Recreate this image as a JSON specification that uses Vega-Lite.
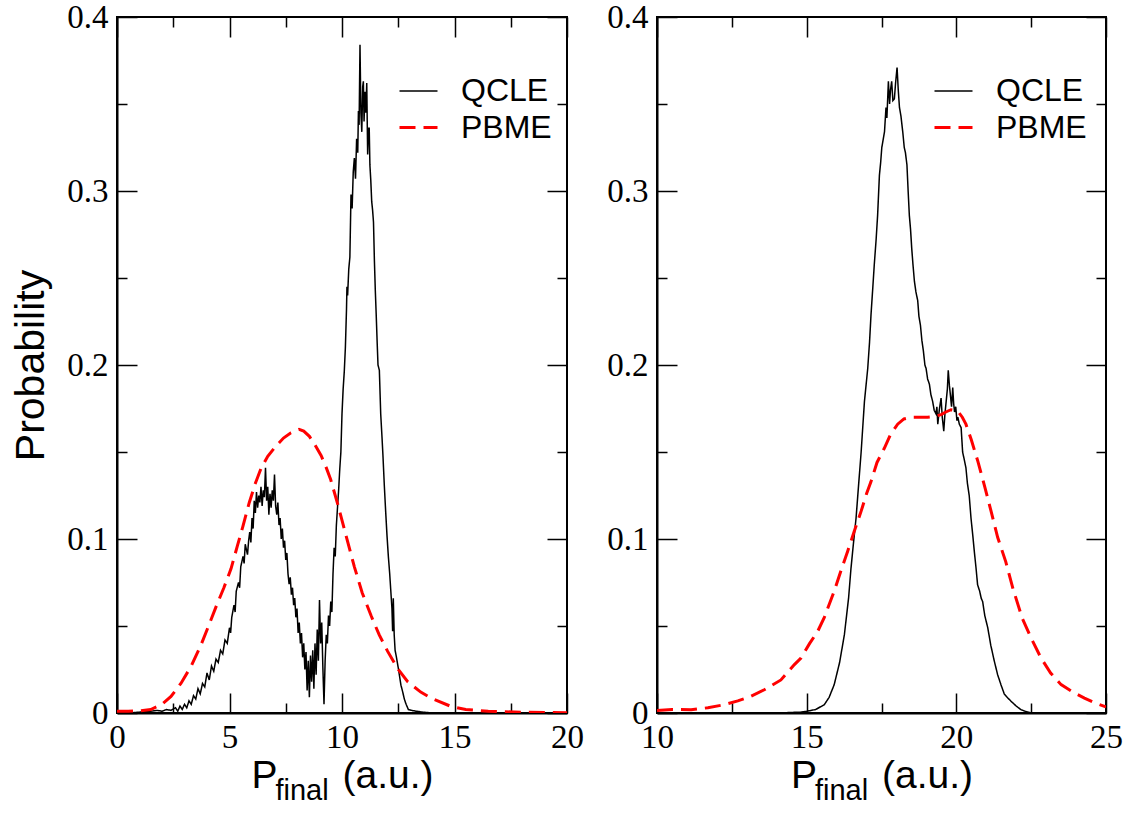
{
  "$schema": "https://vega.github.io/schema/vega-lite/v6.json",
  "padding": {"left": 9, "top": 0, "right": 0, "bottom": 0},
  "background": "white",
  "spacing": 90,
  "bounds": "flush",
  "datasets": {
    "left": [
      {"x":0,"y":0,"s":"QCLE"},{"x":0.5,"y":0,"s":"QCLE"},{"x":1.0,"y":0.0005,"s":"QCLE"},{"x":1.5,"y":0.001,"s":"QCLE"},{"x":1.8,"y":0.0015,"s":"QCLE"},{"x":2.0,"y":0.001,"s":"QCLE"},{"x":2.2,"y":0.002,"s":"QCLE"},{"x":2.4,"y":0.0015,"s":"QCLE"},{"x":2.6,"y":0.003,"s":"QCLE"},{"x":2.7,"y":0.001,"s":"QCLE"},{"x":2.8,"y":0.004,"s":"QCLE"},{"x":2.9,"y":0.002,"s":"QCLE"},{"x":3.0,"y":0.005,"s":"QCLE"},{"x":3.1,"y":0.003,"s":"QCLE"},{"x":3.2,"y":0.007,"s":"QCLE"},{"x":3.3,"y":0.005,"s":"QCLE"},{"x":3.4,"y":0.010,"s":"QCLE"},{"x":3.5,"y":0.008,"s":"QCLE"},{"x":3.6,"y":0.014,"s":"QCLE"},{"x":3.7,"y":0.011,"s":"QCLE"},{"x":3.8,"y":0.017,"s":"QCLE"},{"x":3.9,"y":0.015,"s":"QCLE"},{"x":4.0,"y":0.023,"s":"QCLE"},{"x":4.1,"y":0.019,"s":"QCLE"},{"x":4.2,"y":0.027,"s":"QCLE"},{"x":4.3,"y":0.024,"s":"QCLE"},{"x":4.4,"y":0.031,"s":"QCLE"},{"x":4.5,"y":0.029,"s":"QCLE"},{"x":4.6,"y":0.036,"s":"QCLE"},{"x":4.7,"y":0.034,"s":"QCLE"},{"x":4.8,"y":0.042,"s":"QCLE"},{"x":4.9,"y":0.040,"s":"QCLE"},{"x":5.0,"y":0.049,"s":"QCLE"},{"x":5.05,"y":0.046,"s":"QCLE"},{"x":5.1,"y":0.055,"s":"QCLE"},{"x":5.2,"y":0.062,"s":"QCLE"},{"x":5.25,"y":0.058,"s":"QCLE"},{"x":5.3,"y":0.070,"s":"QCLE"},{"x":5.4,"y":0.075,"s":"QCLE"},{"x":5.45,"y":0.072,"s":"QCLE"},{"x":5.5,"y":0.084,"s":"QCLE"},{"x":5.6,"y":0.090,"s":"QCLE"},{"x":5.65,"y":0.086,"s":"QCLE"},{"x":5.7,"y":0.097,"s":"QCLE"},{"x":5.8,"y":0.091,"s":"QCLE"},{"x":5.85,"y":0.099,"s":"QCLE"},{"x":5.9,"y":0.104,"s":"QCLE"},{"x":5.95,"y":0.098,"s":"QCLE"},{"x":6.0,"y":0.112,"s":"QCLE"},{"x":6.05,"y":0.106,"s":"QCLE"},{"x":6.1,"y":0.122,"s":"QCLE"},{"x":6.15,"y":0.115,"s":"QCLE"},{"x":6.2,"y":0.127,"s":"QCLE"},{"x":6.25,"y":0.118,"s":"QCLE"},{"x":6.3,"y":0.125,"s":"QCLE"},{"x":6.35,"y":0.121,"s":"QCLE"},{"x":6.4,"y":0.130,"s":"QCLE"},{"x":6.45,"y":0.119,"s":"QCLE"},{"x":6.5,"y":0.128,"s":"QCLE"},{"x":6.55,"y":0.124,"s":"QCLE"},{"x":6.6,"y":0.141,"s":"QCLE"},{"x":6.65,"y":0.122,"s":"QCLE"},{"x":6.7,"y":0.130,"s":"QCLE"},{"x":6.75,"y":0.114,"s":"QCLE"},{"x":6.8,"y":0.126,"s":"QCLE"},{"x":6.85,"y":0.118,"s":"QCLE"},{"x":6.9,"y":0.128,"s":"QCLE"},{"x":6.95,"y":0.122,"s":"QCLE"},{"x":7.0,"y":0.137,"s":"QCLE"},{"x":7.05,"y":0.119,"s":"QCLE"},{"x":7.1,"y":0.114,"s":"QCLE"},{"x":7.15,"y":0.121,"s":"QCLE"},{"x":7.2,"y":0.108,"s":"QCLE"},{"x":7.25,"y":0.112,"s":"QCLE"},{"x":7.3,"y":0.100,"s":"QCLE"},{"x":7.35,"y":0.106,"s":"QCLE"},{"x":7.4,"y":0.095,"s":"QCLE"},{"x":7.45,"y":0.099,"s":"QCLE"},{"x":7.5,"y":0.088,"s":"QCLE"},{"x":7.55,"y":0.092,"s":"QCLE"},{"x":7.6,"y":0.080,"s":"QCLE"},{"x":7.65,"y":0.074,"s":"QCLE"},{"x":7.7,"y":0.078,"s":"QCLE"},{"x":7.75,"y":0.068,"s":"QCLE"},{"x":7.8,"y":0.072,"s":"QCLE"},{"x":7.85,"y":0.062,"s":"QCLE"},{"x":7.9,"y":0.066,"s":"QCLE"},{"x":7.95,"y":0.055,"s":"QCLE"},{"x":8.0,"y":0.060,"s":"QCLE"},{"x":8.05,"y":0.046,"s":"QCLE"},{"x":8.1,"y":0.052,"s":"QCLE"},{"x":8.15,"y":0.040,"s":"QCLE"},{"x":8.2,"y":0.046,"s":"QCLE"},{"x":8.25,"y":0.032,"s":"QCLE"},{"x":8.3,"y":0.040,"s":"QCLE"},{"x":8.35,"y":0.025,"s":"QCLE"},{"x":8.4,"y":0.035,"s":"QCLE"},{"x":8.45,"y":0.013,"s":"QCLE"},{"x":8.5,"y":0.030,"s":"QCLE"},{"x":8.55,"y":0.009,"s":"QCLE"},{"x":8.6,"y":0.033,"s":"QCLE"},{"x":8.65,"y":0.018,"s":"QCLE"},{"x":8.7,"y":0.036,"s":"QCLE"},{"x":8.75,"y":0.014,"s":"QCLE"},{"x":8.8,"y":0.040,"s":"QCLE"},{"x":8.85,"y":0.022,"s":"QCLE"},{"x":8.9,"y":0.048,"s":"QCLE"},{"x":8.95,"y":0.030,"s":"QCLE"},{"x":9.0,"y":0.065,"s":"QCLE"},{"x":9.05,"y":0.040,"s":"QCLE"},{"x":9.1,"y":0.052,"s":"QCLE"},{"x":9.15,"y":0.026,"s":"QCLE"},{"x":9.2,"y":0.005,"s":"QCLE"},{"x":9.25,"y":0.030,"s":"QCLE"},{"x":9.3,"y":0.045,"s":"QCLE"},{"x":9.35,"y":0.040,"s":"QCLE"},{"x":9.4,"y":0.056,"s":"QCLE"},{"x":9.45,"y":0.050,"s":"QCLE"},{"x":9.5,"y":0.064,"s":"QCLE"},{"x":9.55,"y":0.058,"s":"QCLE"},{"x":9.6,"y":0.080,"s":"QCLE"},{"x":9.65,"y":0.095,"s":"QCLE"},{"x":9.7,"y":0.090,"s":"QCLE"},{"x":9.75,"y":0.108,"s":"QCLE"},{"x":9.8,"y":0.118,"s":"QCLE"},{"x":9.85,"y":0.128,"s":"QCLE"},{"x":9.9,"y":0.140,"s":"QCLE"},{"x":9.95,"y":0.150,"s":"QCLE"},{"x":10.0,"y":0.172,"s":"QCLE"},{"x":10.05,"y":0.186,"s":"QCLE"},{"x":10.1,"y":0.196,"s":"QCLE"},{"x":10.15,"y":0.210,"s":"QCLE"},{"x":10.2,"y":0.232,"s":"QCLE"},{"x":10.22,"y":0.245,"s":"QCLE"},{"x":10.25,"y":0.240,"s":"QCLE"},{"x":10.3,"y":0.255,"s":"QCLE"},{"x":10.35,"y":0.262,"s":"QCLE"},{"x":10.4,"y":0.298,"s":"QCLE"},{"x":10.45,"y":0.290,"s":"QCLE"},{"x":10.5,"y":0.311,"s":"QCLE"},{"x":10.55,"y":0.319,"s":"QCLE"},{"x":10.6,"y":0.307,"s":"QCLE"},{"x":10.65,"y":0.330,"s":"QCLE"},{"x":10.7,"y":0.322,"s":"QCLE"},{"x":10.73,"y":0.346,"s":"QCLE"},{"x":10.76,"y":0.338,"s":"QCLE"},{"x":10.8,"y":0.384,"s":"QCLE"},{"x":10.84,"y":0.345,"s":"QCLE"},{"x":10.88,"y":0.334,"s":"QCLE"},{"x":10.92,"y":0.360,"s":"QCLE"},{"x":10.95,"y":0.363,"s":"QCLE"},{"x":10.98,"y":0.340,"s":"QCLE"},{"x":11.02,"y":0.357,"s":"QCLE"},{"x":11.06,"y":0.345,"s":"QCLE"},{"x":11.1,"y":0.362,"s":"QCLE"},{"x":11.14,"y":0.321,"s":"QCLE"},{"x":11.18,"y":0.336,"s":"QCLE"},{"x":11.21,"y":0.336,"s":"QCLE"},{"x":11.24,"y":0.315,"s":"QCLE"},{"x":11.28,"y":0.306,"s":"QCLE"},{"x":11.32,"y":0.294,"s":"QCLE"},{"x":11.36,"y":0.289,"s":"QCLE"},{"x":11.4,"y":0.282,"s":"QCLE"},{"x":11.44,"y":0.260,"s":"QCLE"},{"x":11.48,"y":0.243,"s":"QCLE"},{"x":11.52,"y":0.229,"s":"QCLE"},{"x":11.56,"y":0.214,"s":"QCLE"},{"x":11.6,"y":0.200,"s":"QCLE"},{"x":11.66,"y":0.197,"s":"QCLE"},{"x":11.72,"y":0.172,"s":"QCLE"},{"x":11.78,"y":0.158,"s":"QCLE"},{"x":11.82,"y":0.148,"s":"QCLE"},{"x":11.88,"y":0.131,"s":"QCLE"},{"x":11.94,"y":0.116,"s":"QCLE"},{"x":12.0,"y":0.102,"s":"QCLE"},{"x":12.06,"y":0.090,"s":"QCLE"},{"x":12.12,"y":0.080,"s":"QCLE"},{"x":12.18,"y":0.068,"s":"QCLE"},{"x":12.22,"y":0.060,"s":"QCLE"},{"x":12.25,"y":0.047,"s":"QCLE"},{"x":12.28,"y":0.066,"s":"QCLE"},{"x":12.32,"y":0.045,"s":"QCLE"},{"x":12.36,"y":0.036,"s":"QCLE"},{"x":12.42,"y":0.032,"s":"QCLE"},{"x":12.5,"y":0.026,"s":"QCLE"},{"x":12.56,"y":0.021,"s":"QCLE"},{"x":12.62,"y":0.016,"s":"QCLE"},{"x":12.7,"y":0.012,"s":"QCLE"},{"x":12.77,"y":0.008,"s":"QCLE"},{"x":12.85,"y":0.005,"s":"QCLE"},{"x":12.95,"y":0.002,"s":"QCLE"},{"x":13.1,"y":0.0015,"s":"QCLE"},{"x":13.3,"y":0.001,"s":"QCLE"},{"x":13.6,"y":0.0005,"s":"QCLE"},{"x":14,"y":0,"s":"QCLE"},{"x":20,"y":0,"s":"QCLE"},
      {"x":0,"y":0.001,"s":"PBME"},{"x":0.5,"y":0.001,"s":"PBME"},{"x":1.0,"y":0.0012,"s":"PBME"},{"x":1.5,"y":0.002,"s":"PBME"},{"x":2.0,"y":0.005,"s":"PBME"},{"x":2.4,"y":0.0095,"s":"PBME"},{"x":2.84,"y":0.017,"s":"PBME"},{"x":3.3,"y":0.027,"s":"PBME"},{"x":3.73,"y":0.039,"s":"PBME"},{"x":4.1,"y":0.051,"s":"PBME"},{"x":4.4,"y":0.061,"s":"PBME"},{"x":4.75,"y":0.072,"s":"PBME"},{"x":5.07,"y":0.083,"s":"PBME"},{"x":5.35,"y":0.096,"s":"PBME"},{"x":5.59,"y":0.107,"s":"PBME"},{"x":5.88,"y":0.121,"s":"PBME"},{"x":6.15,"y":0.132,"s":"PBME"},{"x":6.4,"y":0.1405,"s":"PBME"},{"x":6.7,"y":0.1475,"s":"PBME"},{"x":7.07,"y":0.1535,"s":"PBME"},{"x":7.4,"y":0.158,"s":"PBME"},{"x":7.73,"y":0.161,"s":"PBME"},{"x":8.09,"y":0.163,"s":"PBME"},{"x":8.3,"y":0.162,"s":"PBME"},{"x":8.55,"y":0.159,"s":"PBME"},{"x":8.8,"y":0.154,"s":"PBME"},{"x":9.07,"y":0.148,"s":"PBME"},{"x":9.3,"y":0.141,"s":"PBME"},{"x":9.5,"y":0.134,"s":"PBME"},{"x":9.81,"y":0.120,"s":"PBME"},{"x":10.2,"y":0.101,"s":"PBME"},{"x":10.55,"y":0.084,"s":"PBME"},{"x":10.9,"y":0.069,"s":"PBME"},{"x":11.29,"y":0.056,"s":"PBME"},{"x":11.65,"y":0.045,"s":"PBME"},{"x":12.03,"y":0.0354,"s":"PBME"},{"x":12.5,"y":0.025,"s":"PBME"},{"x":12.92,"y":0.018,"s":"PBME"},{"x":13.5,"y":0.012,"s":"PBME"},{"x":13.96,"y":0.0086,"s":"PBME"},{"x":14.84,"y":0.0038,"s":"PBME"},{"x":15.5,"y":0.002,"s":"PBME"},{"x":16.5,"y":0.001,"s":"PBME"},{"x":18,"y":0.0004,"s":"PBME"},{"x":20,"y":0.0002,"s":"PBME"}
    ],
    "right": [
      {"x":10,"y":0,"s":"QCLE"},{"x":14,"y":0,"s":"QCLE"},{"x":14.8,"y":0.0005,"s":"QCLE"},{"x":15.0,"y":0.001,"s":"QCLE"},{"x":15.3,"y":0.002,"s":"QCLE"},{"x":15.59,"y":0.0048,"s":"QCLE"},{"x":15.75,"y":0.009,"s":"QCLE"},{"x":15.92,"y":0.0163,"s":"QCLE"},{"x":16.1,"y":0.029,"s":"QCLE"},{"x":16.26,"y":0.045,"s":"QCLE"},{"x":16.4,"y":0.066,"s":"QCLE"},{"x":16.48,"y":0.083,"s":"QCLE"},{"x":16.56,"y":0.097,"s":"QCLE"},{"x":16.65,"y":0.112,"s":"QCLE"},{"x":16.73,"y":0.13,"s":"QCLE"},{"x":16.82,"y":0.15,"s":"QCLE"},{"x":16.93,"y":0.179,"s":"QCLE"},{"x":17.04,"y":0.198,"s":"QCLE"},{"x":17.1,"y":0.213,"s":"QCLE"},{"x":17.15,"y":0.229,"s":"QCLE"},{"x":17.2,"y":0.242,"s":"QCLE"},{"x":17.26,"y":0.258,"s":"QCLE"},{"x":17.32,"y":0.272,"s":"QCLE"},{"x":17.37,"y":0.286,"s":"QCLE"},{"x":17.43,"y":0.309,"s":"QCLE"},{"x":17.47,"y":0.316,"s":"QCLE"},{"x":17.51,"y":0.325,"s":"QCLE"},{"x":17.56,"y":0.330,"s":"QCLE"},{"x":17.6,"y":0.334,"s":"QCLE"},{"x":17.65,"y":0.348,"s":"QCLE"},{"x":17.68,"y":0.342,"s":"QCLE"},{"x":17.73,"y":0.363,"s":"QCLE"},{"x":17.77,"y":0.350,"s":"QCLE"},{"x":17.8,"y":0.358,"s":"QCLE"},{"x":17.84,"y":0.363,"s":"QCLE"},{"x":17.88,"y":0.352,"s":"QCLE"},{"x":17.93,"y":0.353,"s":"QCLE"},{"x":17.97,"y":0.362,"s":"QCLE"},{"x":18.02,"y":0.371,"s":"QCLE"},{"x":18.06,"y":0.358,"s":"QCLE"},{"x":18.1,"y":0.348,"s":"QCLE"},{"x":18.15,"y":0.343,"s":"QCLE"},{"x":18.21,"y":0.334,"s":"QCLE"},{"x":18.26,"y":0.325,"s":"QCLE"},{"x":18.3,"y":0.322,"s":"QCLE"},{"x":18.35,"y":0.315,"s":"QCLE"},{"x":18.39,"y":0.300,"s":"QCLE"},{"x":18.43,"y":0.286,"s":"QCLE"},{"x":18.47,"y":0.278,"s":"QCLE"},{"x":18.51,"y":0.267,"s":"QCLE"},{"x":18.55,"y":0.258,"s":"QCLE"},{"x":18.6,"y":0.248,"s":"QCLE"},{"x":18.65,"y":0.242,"s":"QCLE"},{"x":18.71,"y":0.237,"s":"QCLE"},{"x":18.75,"y":0.228,"s":"QCLE"},{"x":18.8,"y":0.223,"s":"QCLE"},{"x":18.85,"y":0.214,"s":"QCLE"},{"x":18.9,"y":0.208,"s":"QCLE"},{"x":18.95,"y":0.200,"s":"QCLE"},{"x":18.99,"y":0.198,"s":"QCLE"},{"x":19.04,"y":0.192,"s":"QCLE"},{"x":19.1,"y":0.189,"s":"QCLE"},{"x":19.15,"y":0.183,"s":"QCLE"},{"x":19.21,"y":0.179,"s":"QCLE"},{"x":19.26,"y":0.174,"s":"QCLE"},{"x":19.32,"y":0.172,"s":"QCLE"},{"x":19.35,"y":0.176,"s":"QCLE"},{"x":19.38,"y":0.166,"s":"QCLE"},{"x":19.43,"y":0.174,"s":"QCLE"},{"x":19.49,"y":0.181,"s":"QCLE"},{"x":19.53,"y":0.170,"s":"QCLE"},{"x":19.58,"y":0.162,"s":"QCLE"},{"x":19.62,"y":0.172,"s":"QCLE"},{"x":19.66,"y":0.179,"s":"QCLE"},{"x":19.7,"y":0.186,"s":"QCLE"},{"x":19.73,"y":0.197,"s":"QCLE"},{"x":19.77,"y":0.188,"s":"QCLE"},{"x":19.8,"y":0.183,"s":"QCLE"},{"x":19.84,"y":0.176,"s":"QCLE"},{"x":19.88,"y":0.187,"s":"QCLE"},{"x":19.91,"y":0.178,"s":"QCLE"},{"x":19.94,"y":0.173,"s":"QCLE"},{"x":19.98,"y":0.176,"s":"QCLE"},{"x":20.02,"y":0.168,"s":"QCLE"},{"x":20.05,"y":0.170,"s":"QCLE"},{"x":20.1,"y":0.166,"s":"QCLE"},{"x":20.16,"y":0.164,"s":"QCLE"},{"x":20.21,"y":0.150,"s":"QCLE"},{"x":20.26,"y":0.146,"s":"QCLE"},{"x":20.32,"y":0.141,"s":"QCLE"},{"x":20.37,"y":0.132,"s":"QCLE"},{"x":20.43,"y":0.125,"s":"QCLE"},{"x":20.49,"y":0.112,"s":"QCLE"},{"x":20.55,"y":0.102,"s":"QCLE"},{"x":20.6,"y":0.093,"s":"QCLE"},{"x":20.66,"y":0.083,"s":"QCLE"},{"x":20.71,"y":0.0737,"s":"QCLE"},{"x":20.78,"y":0.070,"s":"QCLE"},{"x":20.83,"y":0.066,"s":"QCLE"},{"x":20.88,"y":0.064,"s":"QCLE"},{"x":20.95,"y":0.056,"s":"QCLE"},{"x":21.05,"y":0.049,"s":"QCLE"},{"x":21.15,"y":0.039,"s":"QCLE"},{"x":21.27,"y":0.0297,"s":"QCLE"},{"x":21.38,"y":0.022,"s":"QCLE"},{"x":21.49,"y":0.0163,"s":"QCLE"},{"x":21.6,"y":0.011,"s":"QCLE"},{"x":21.7,"y":0.009,"s":"QCLE"},{"x":21.83,"y":0.0067,"s":"QCLE"},{"x":22.0,"y":0.004,"s":"QCLE"},{"x":22.16,"y":0.0019,"s":"QCLE"},{"x":22.3,"y":0.001,"s":"QCLE"},{"x":22.5,"y":0,"s":"QCLE"},{"x":25,"y":0,"s":"QCLE"},
      {"x":10,"y":0.0015,"s":"PBME"},{"x":10.5,"y":0.002,"s":"PBME"},{"x":11.14,"y":0.0019,"s":"PBME"},{"x":11.7,"y":0.003,"s":"PBME"},{"x":12.25,"y":0.0048,"s":"PBME"},{"x":12.7,"y":0.007,"s":"PBME"},{"x":13.14,"y":0.0096,"s":"PBME"},{"x":13.6,"y":0.0135,"s":"PBME"},{"x":14.14,"y":0.019,"s":"PBME"},{"x":14.59,"y":0.0278,"s":"PBME"},{"x":14.81,"y":0.0316,"s":"PBME"},{"x":15.1,"y":0.040,"s":"PBME"},{"x":15.37,"y":0.047,"s":"PBME"},{"x":15.59,"y":0.055,"s":"PBME"},{"x":15.92,"y":0.070,"s":"PBME"},{"x":16.15,"y":0.082,"s":"PBME"},{"x":16.37,"y":0.093,"s":"PBME"},{"x":16.59,"y":0.1044,"s":"PBME"},{"x":16.82,"y":0.116,"s":"PBME"},{"x":17.0,"y":0.126,"s":"PBME"},{"x":17.15,"y":0.133,"s":"PBME"},{"x":17.35,"y":0.144,"s":"PBME"},{"x":17.59,"y":0.152,"s":"PBME"},{"x":17.8,"y":0.160,"s":"PBME"},{"x":18.04,"y":0.166,"s":"PBME"},{"x":18.25,"y":0.169,"s":"PBME"},{"x":18.49,"y":0.170,"s":"PBME"},{"x":18.75,"y":0.170,"s":"PBME"},{"x":19.04,"y":0.170,"s":"PBME"},{"x":19.3,"y":0.1705,"s":"PBME"},{"x":19.49,"y":0.1715,"s":"PBME"},{"x":19.65,"y":0.173,"s":"PBME"},{"x":19.82,"y":0.1743,"s":"PBME"},{"x":20.05,"y":0.1734,"s":"PBME"},{"x":20.2,"y":0.170,"s":"PBME"},{"x":20.32,"y":0.166,"s":"PBME"},{"x":20.5,"y":0.157,"s":"PBME"},{"x":20.72,"y":0.1446,"s":"PBME"},{"x":20.95,"y":0.130,"s":"PBME"},{"x":21.16,"y":0.116,"s":"PBME"},{"x":21.38,"y":0.101,"s":"PBME"},{"x":21.65,"y":0.087,"s":"PBME"},{"x":21.9,"y":0.071,"s":"PBME"},{"x":22.2,"y":0.0546,"s":"PBME"},{"x":22.5,"y":0.043,"s":"PBME"},{"x":22.83,"y":0.0316,"s":"PBME"},{"x":23.15,"y":0.023,"s":"PBME"},{"x":23.5,"y":0.0163,"s":"PBME"},{"x":23.9,"y":0.012,"s":"PBME"},{"x":24.28,"y":0.0086,"s":"PBME"},{"x":24.6,"y":0.006,"s":"PBME"},{"x":24.95,"y":0.0038,"s":"PBME"},{"x":25,"y":0.0035,"s":"PBME"}
    ]
  },
  "config": {
    "view": {"stroke": "black", "strokeWidth": 2},
    "axis": {
      "grid": false,
      "labelFont": "Liberation Serif",
      "labelFontSize": 33,
      "labelColor": "black",
      "titleFont": "Liberation Sans",
      "titleFontSize": 39,
      "titleFontWeight": "normal",
      "titleColor": "black",
      "tickColor": "black",
      "tickWidth": 1.5,
      "domainColor": "black",
      "domainWidth": 2
    },
    "legend": {
      "orient": "none",
      "legendY": 54,
      "labelFont": "Liberation Sans",
      "labelFontSize": 32,
      "labelColor": "black",
      "symbolType": "stroke",
      "symbolSize": 1444,
      "labelOffset": 22,
      "rowPadding": -3,
      "labelLimit": 400
    }
  },
  "resolve": {
    "scale": {"color": "independent", "strokeDash": "independent", "strokeWidth": "independent"},
    "legend": {"color": "independent", "strokeDash": "independent", "strokeWidth": "independent"}
  },
  "hconcat": [
    {
      "width": 450,
      "height": 696,
      "data": {"name": "left"},
      "title": {"text": "final", "orient": "bottom", "frame": "group", "anchor": "middle", "font": "Liberation Sans", "fontSize": 29, "fontWeight": "normal", "color": "black", "dx": -40, "offset": -18},
      "layer": [
        {
          "mark": {"type": "line", "clip": true},
          "encoding": {
            "x": {"field": "x", "type": "quantitative", "scale": {"domain": [0, 20], "nice": false, "zero": false},
                  "axis": {"orient": "bottom", "values": [0, 5, 10, 15, 20], "format": "d", "tickSize": -20, "labelPadding": 28, "title": "P\u00a0\u00a0\u00a0\u00a0\u00a0\u00a0(a.u.)", "titlePadding": 2, "labelFlush": false, "labelOverlap": false}},
            "y": {"field": "y", "type": "quantitative", "scale": {"domain": [0, 0.4], "nice": false, "zero": false},
                  "axis": {"orient": "left", "values": [0, 0.1, 0.2, 0.3, 0.4], "format": ".1~f", "tickSize": -20, "labelPadding": 29, "title": "Probability", "titleFontSize": 41, "titlePadding": 14, "labelFlush": false, "labelOverlap": false}},
            "color": {"field": "s", "type": "nominal", "scale": {"domain": ["QCLE", "PBME"], "range": ["#000000", "#ff0000"]}, "legend": {"title": null, "legendX": 281}},
            "strokeDash": {"field": "s", "type": "nominal", "scale": {"domain": ["QCLE", "PBME"], "range": [[1, 0], [16, 8]]}, "legend": {"title": null, "legendX": 281}},
            "strokeWidth": {"field": "s", "type": "nominal", "scale": {"domain": ["QCLE", "PBME"], "range": [1.5, 3]}, "legend": {"title": null, "legendX": 281}}
          }
        },
        {
          "mark": {"type": "line", "strokeOpacity": 0},
          "encoding": {
            "detail": {"field": "s"},
            "x": {"field": "x", "type": "quantitative", "scale": {"domain": [0, 20], "nice": false, "zero": false},
                  "axis": {"orient": "top", "values": [0, 5, 10, 15, 20], "tickSize": -20, "labels": false, "domain": false, "title": null}},
            "y": {"field": "y", "type": "quantitative", "scale": {"domain": [0, 0.4], "nice": false, "zero": false},
                  "axis": {"orient": "right", "values": [0, 0.1, 0.2, 0.3, 0.4], "tickSize": -20, "labels": false, "domain": false, "title": null}}
          }
        },
        {
          "mark": {"type": "line", "strokeOpacity": 0},
          "encoding": {
            "detail": {"field": "s"},
            "x": {"field": "x", "type": "quantitative", "scale": {"domain": [0, 20], "nice": false, "zero": false},
                  "axis": {"orient": "bottom", "values": [2.5, 7.5, 12.5, 17.5], "tickSize": -10, "labels": false, "domain": false, "title": null}},
            "y": {"field": "y", "type": "quantitative", "scale": {"domain": [0, 0.4], "nice": false, "zero": false},
                  "axis": {"orient": "left", "values": [0.05, 0.15, 0.25, 0.35], "tickSize": -10, "labels": false, "domain": false, "title": null}}
          }
        },
        {
          "mark": {"type": "line", "strokeOpacity": 0},
          "encoding": {
            "detail": {"field": "s"},
            "x": {"field": "x", "type": "quantitative", "scale": {"domain": [0, 20], "nice": false, "zero": false},
                  "axis": {"orient": "top", "values": [2.5, 7.5, 12.5, 17.5], "tickSize": -10, "labels": false, "domain": false, "title": null}},
            "y": {"field": "y", "type": "quantitative", "scale": {"domain": [0, 0.4], "nice": false, "zero": false},
                  "axis": {"orient": "right", "values": [0.05, 0.15, 0.25, 0.35], "tickSize": -10, "labels": false, "domain": false, "title": null}}
          }
        }
      ],
      "resolve": {"axis": {"x": "independent", "y": "independent"}}
    },
    {
      "width": 449,
      "height": 696,
      "data": {"name": "right"},
      "title": {"text": "final", "orient": "bottom", "frame": "group", "anchor": "middle", "font": "Liberation Sans", "fontSize": 29, "fontWeight": "normal", "color": "black", "dx": -40, "offset": -18},
      "layer": [
        {
          "mark": {"type": "line", "clip": true},
          "encoding": {
            "x": {"field": "x", "type": "quantitative", "scale": {"domain": [10, 25], "nice": false, "zero": false},
                  "axis": {"orient": "bottom", "values": [10, 15, 20, 25], "format": "d", "tickSize": -20, "labelPadding": 28, "title": "P\u00a0\u00a0\u00a0\u00a0\u00a0\u00a0(a.u.)", "titlePadding": 2, "labelFlush": false, "labelOverlap": false}},
            "y": {"field": "y", "type": "quantitative", "scale": {"domain": [0, 0.4], "nice": false, "zero": false},
                  "axis": {"orient": "left", "values": [0, 0.1, 0.2, 0.3, 0.4], "format": ".1~f", "tickSize": -20, "labelPadding": 29, "title": null, "labelFlush": false, "labelOverlap": false}},
            "color": {"field": "s", "type": "nominal", "scale": {"domain": ["QCLE", "PBME"], "range": ["#000000", "#ff0000"]}, "legend": {"title": null, "legendX": 276}},
            "strokeDash": {"field": "s", "type": "nominal", "scale": {"domain": ["QCLE", "PBME"], "range": [[1, 0], [16, 8]]}, "legend": {"title": null, "legendX": 276}},
            "strokeWidth": {"field": "s", "type": "nominal", "scale": {"domain": ["QCLE", "PBME"], "range": [1.5, 3]}, "legend": {"title": null, "legendX": 276}}
          }
        },
        {
          "mark": {"type": "line", "strokeOpacity": 0},
          "encoding": {
            "detail": {"field": "s"},
            "x": {"field": "x", "type": "quantitative", "scale": {"domain": [10, 25], "nice": false, "zero": false},
                  "axis": {"orient": "top", "values": [10, 15, 20, 25], "tickSize": -20, "labels": false, "domain": false, "title": null}},
            "y": {"field": "y", "type": "quantitative", "scale": {"domain": [0, 0.4], "nice": false, "zero": false},
                  "axis": {"orient": "right", "values": [0, 0.1, 0.2, 0.3, 0.4], "tickSize": -20, "labels": false, "domain": false, "title": null}}
          }
        },
        {
          "mark": {"type": "line", "strokeOpacity": 0},
          "encoding": {
            "detail": {"field": "s"},
            "x": {"field": "x", "type": "quantitative", "scale": {"domain": [10, 25], "nice": false, "zero": false},
                  "axis": {"orient": "bottom", "values": [12.5, 17.5, 22.5], "tickSize": -10, "labels": false, "domain": false, "title": null}},
            "y": {"field": "y", "type": "quantitative", "scale": {"domain": [0, 0.4], "nice": false, "zero": false},
                  "axis": {"orient": "left", "values": [0.05, 0.15, 0.25, 0.35], "tickSize": -10, "labels": false, "domain": false, "title": null}}
          }
        },
        {
          "mark": {"type": "line", "strokeOpacity": 0},
          "encoding": {
            "detail": {"field": "s"},
            "x": {"field": "x", "type": "quantitative", "scale": {"domain": [10, 25], "nice": false, "zero": false},
                  "axis": {"orient": "top", "values": [12.5, 17.5, 22.5], "tickSize": -10, "labels": false, "domain": false, "title": null}},
            "y": {"field": "y", "type": "quantitative", "scale": {"domain": [0, 0.4], "nice": false, "zero": false},
                  "axis": {"orient": "right", "values": [0.05, 0.15, 0.25, 0.35], "tickSize": -10, "labels": false, "domain": false, "title": null}}
          }
        }
      ],
      "resolve": {"axis": {"x": "independent", "y": "independent"}}
    }
  ]
}
